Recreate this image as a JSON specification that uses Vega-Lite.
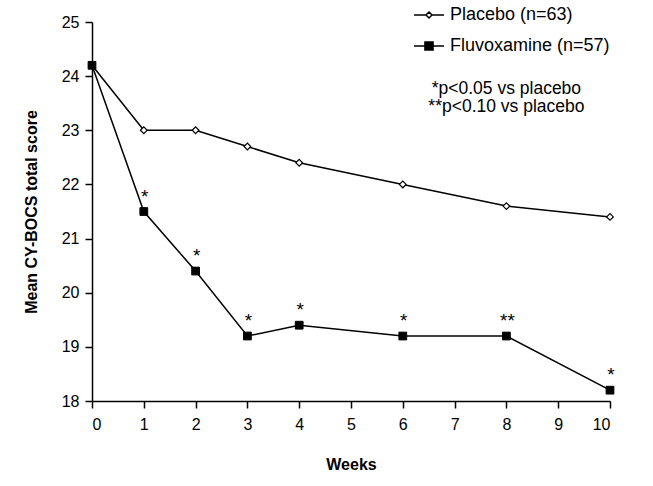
{
  "$schema": "https://vega.github.io/schema/vega-lite/v6.json",
  "autosize": {"type": "none"},
  "width": 518,
  "height": 379,
  "padding": {"left": 92, "top": 22, "right": 43, "bottom": 85},
  "background": "white",
  "config": {
    "view": {"stroke": null},
    "font": "Liberation Sans",
    "axis": {
      "grid": false,
      "domainColor": "black",
      "domainWidth": 1.5,
      "tickColor": "black",
      "tickWidth": 1.5,
      "tickSize": 7,
      "labelColor": "black",
      "labelFont": "Liberation Sans",
      "labelFontSize": 16,
      "titleFont": "Liberation Sans",
      "titleFontSize": 16,
      "titleFontWeight": "bold",
      "titleColor": "black"
    },
    "legend": {
      "labelFont": "Liberation Sans",
      "labelFontSize": 18,
      "labelColor": "black"
    }
  },
  "datasets": {
    "scores": [
      {"week": 0, "score": 24.2, "group": "Placebo (n=63)", "sig": ""},
      {"week": 1, "score": 23.0, "group": "Placebo (n=63)", "sig": ""},
      {"week": 2, "score": 23.0, "group": "Placebo (n=63)", "sig": ""},
      {"week": 3, "score": 22.7, "group": "Placebo (n=63)", "sig": ""},
      {"week": 4, "score": 22.4, "group": "Placebo (n=63)", "sig": ""},
      {"week": 6, "score": 22.0, "group": "Placebo (n=63)", "sig": ""},
      {"week": 8, "score": 21.6, "group": "Placebo (n=63)", "sig": ""},
      {"week": 10, "score": 21.4, "group": "Placebo (n=63)", "sig": ""},
      {"week": 0, "score": 24.2, "group": "Fluvoxamine (n=57)", "sig": ""},
      {"week": 1, "score": 21.5, "group": "Fluvoxamine (n=57)", "sig": "*"},
      {"week": 2, "score": 20.4, "group": "Fluvoxamine (n=57)", "sig": "*"},
      {"week": 3, "score": 19.2, "group": "Fluvoxamine (n=57)", "sig": "*"},
      {"week": 4, "score": 19.4, "group": "Fluvoxamine (n=57)", "sig": "*"},
      {"week": 6, "score": 19.2, "group": "Fluvoxamine (n=57)", "sig": "*"},
      {"week": 8, "score": 19.2, "group": "Fluvoxamine (n=57)", "sig": "**"},
      {"week": 10, "score": 18.2, "group": "Fluvoxamine (n=57)", "sig": "*"}
    ],
    "notes": [
      {"week": 8.0, "score": 23.77, "label": "*p<0.05 vs placebo"},
      {"week": 8.0, "score": 23.43, "label": "**p<0.10 vs placebo"}
    ]
  },
  "layer": [
    {
      "data": {"name": "scores"},
      "mark": {"type": "line", "color": "black", "strokeWidth": 1.5},
      "encoding": {
        "x": {
          "field": "week", "type": "quantitative",
          "scale": {"domain": [0, 10], "nice": false, "zero": false},
          "axis": {"values": [0,1,2,3,4,5,6,7,8,9,10], "title": "Weeks", "labelPadding": 8, "titlePadding": 24, "format": "d"}
        },
        "y": {
          "field": "score", "type": "quantitative",
          "scale": {"domain": [18, 25], "nice": false, "zero": false},
          "axis": {"values": [18,19,20,21,22,23,24,25], "title": "Mean CY-BOCS total score", "labelPadding": 6, "titlePadding": 22, "format": "d"}
        },
        "detail": {"field": "group"}
      }
    },
    {
      "data": {"name": "scores"},
      "transform": [{"filter": "datum.group === 'Placebo (n=63)'"}],
      "mark": {"type": "point", "shape": "diamond", "filled": true, "fill": "white", "stroke": "black", "strokeWidth": 1.2, "opacity": 1, "size": 45},
      "encoding": {
        "x": {"field": "week", "type": "quantitative"},
        "y": {"field": "score", "type": "quantitative"}
      }
    },
    {
      "data": {"name": "scores"},
      "transform": [{"filter": "datum.group === 'Fluvoxamine (n=57)'"}],
      "mark": {"type": "point", "shape": "square", "filled": true, "fill": "black", "stroke": "black", "strokeWidth": 1, "opacity": 1, "size": 60},
      "encoding": {
        "x": {"field": "week", "type": "quantitative"},
        "y": {"field": "score", "type": "quantitative"}
      }
    },
    {
      "data": {"name": "scores"},
      "transform": [{"filter": "false"}],
      "mark": {"type": "point", "filled": true, "stroke": "black", "strokeWidth": 1.5, "opacity": 1},
      "encoding": {
        "x": {"field": "week", "type": "quantitative"},
        "y": {"field": "score", "type": "quantitative"},
        "shape": {
          "field": "group", "type": "nominal",
          "scale": {"domain": ["Placebo (n=63)", "Fluvoxamine (n=57)"], "range": ["M-1,0L-0.2,0M0.2,0L1,0M0,-0.2L0.2,0L0,0.2L-0.2,0Z", "M-1,0L1,0M-0.27,-0.27L0.27,-0.27L0.27,0.27L-0.27,0.27Z"]},
          "legend": {
            "title": null,
            "orient": "none",
            "legendX": 321,
            "legendY": -23,
            "padding": 0,
            "symbolSize": 900,
            "symbolStrokeWidth": 1.5,
            "labelOffset": 5,
            "rowPadding": 6
          }
        },
        "fill": {
          "field": "group", "type": "nominal",
          "scale": {"domain": ["Placebo (n=63)", "Fluvoxamine (n=57)"], "range": ["white", "black"]},
          "legend": {
            "title": null,
            "orient": "none",
            "legendX": 321,
            "legendY": -23,
            "padding": 0,
            "symbolSize": 900,
            "symbolStrokeWidth": 1.5,
            "labelOffset": 5,
            "rowPadding": 6
          }
        }
      }
    },
    {
      "data": {"name": "scores"},
      "transform": [{"filter": "datum.sig != ''"}],
      "mark": {"type": "text", "fontSize": 19, "font": "Liberation Sans", "color": "black", "baseline": "middle", "dy": -15, "dx": 1},
      "encoding": {
        "x": {"field": "week", "type": "quantitative"},
        "y": {"field": "score", "type": "quantitative"},
        "text": {"field": "sig"}
      }
    },
    {
      "data": {"name": "notes"},
      "mark": {"type": "text", "fontSize": 17.5, "font": "Liberation Sans", "color": "black", "baseline": "middle", "align": "center"},
      "encoding": {
        "x": {"field": "week", "type": "quantitative"},
        "y": {"field": "score", "type": "quantitative"},
        "text": {"field": "label"}
      }
    }
  ]
}
